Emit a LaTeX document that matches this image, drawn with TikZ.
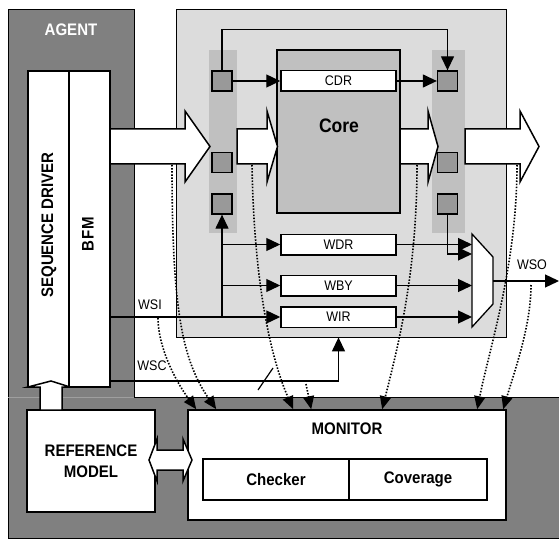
\documentclass[tikz,border=0pt]{standalone}
\usepackage{fontspec}
\setmainfont[FakeStretch=0.9]{Liberation Sans}
\usetikzlibrary{arrows.meta,positioning,calc}
\definecolor{agentsz}{HTML}{808080}
\definecolor{dutsz}{HTML}{DCDCDC}
\definecolor{savsz}{HTML}{C0C0C0}
\definecolor{portsz}{HTML}{999999}
\newcommand{\bfnagy}{\fontsize{16.7}{21}\selectfont\bfseries}
\newcommand{\kicsi}{\fontsize{13.9}{16}\selectfont}
\tikzset{
  lap/.style={draw,line width=1.6pt,fill=white,inner sep=0pt,align=center,font=\bfnagy},
  reg/.style={draw,line width=1.5pt,fill=white,minimum width=115pt,minimum height=20.5pt,inner sep=0pt,font=\kicsi},
  port/.style={draw,line width=1.3pt,fill=portsz,minimum size=20pt,inner sep=0pt},
  arr/.style={line width=1.3pt,-{Triangle[length=14pt,width=13pt]}},
  probe/.style={line width=1.6pt,dash pattern=on 1.5pt off 1.6pt,-{Triangle[length=13pt,width=11pt]}},
  cimke/.style={font=\kicsi,inner sep=0pt},
}
% hollow block arrow: shaft start, head base, tip, centre line
\newcommand{\vastag}[4]{%
  \draw[line width=1.5pt,fill=white] (#1,#4-17.5) -- (#2,#4-17.5) -- (#2,#4-35.5)
    -- (#3,#4) -- (#2,#4+35.5) -- (#2,#4+17.5) -- (#1,#4+17.5) -- cycle;}
\begin{document}
\begin{tikzpicture}[x=1pt,y=-1pt]
  \useasboundingbox (0,0) rectangle (559,540);
  % agent
  \filldraw[fill=agentsz,line width=0.8pt] (8,397) rectangle (565,538);
  \fill[agentsz] (8,9) rectangle (134,397);
  \draw[line width=0.8pt] (8,397) |- (134,9) -- (134,397);
  \draw[gray!75] (8,397) -- (134,397);
  \node[text=white,font=\bfnagy] (agent) at (71,29.5) {AGENT};
  \node[lap,minimum width=41pt,minimum height=316pt] (seq) at (48.5,229) {};
  \node[lap,minimum width=41pt,minimum height=316pt] (bfm) at (89.5,229) {};
  \node[rotate=90,font=\bfnagy] at (49,225) {SEQUENCE DRIVER};
  \node[rotate=90,font={\bfnagy\addfontfeature{LetterSpace=7}}] at (88,234) {BFM};
  \node[lap,minimum width=128pt,minimum height=102pt] (ref) at (91,461) {REFERENCE\\MODEL};
  \node[lap,minimum width=318pt,minimum height=110pt] (mon) at (347,465) {};
  \node[font=\bfnagy] at (347,429) {MONITOR};
  \node[lap,minimum width=146pt,minimum height=41pt] (chk) at (276,479.5) {Checker};
  \node[lap,minimum width=138pt,minimum height=41pt] (cov) at (418,479.5) {Coverage};
  \draw[line width=1.5pt,fill=white] (40,410) -- (40,387) -- (28,387) -- (51,381)
    -- (70,387) -- (62,387) -- (62,410) -- cycle;
  \draw[line width=1.5pt,fill=white] (149,460) -- (157,439) -- (157,450) -- (183,450)
    -- (183,439) -- (192,460) -- (183,481) -- (183,470) -- (157,470) -- (157,481) -- cycle;
  % DUT
  \node[draw,line width=0.8pt,fill=dutsz,minimum width=330pt,minimum height=328pt] (dut) at (341,173) {};
  \fill[savsz] (209,50) rectangle (237,233);
  \fill[savsz] (432,50) rectangle (465,233);
  \node[draw,line width=1.5pt,fill=savsz,minimum width=123pt,minimum height=163pt] (core) at (338.5,131.5) {};
  \node[font=\fontsize{19.5}{22}\selectfont\bfseries] at (339,125.5) {Core};
  \node[reg] (cdr) at (338.5,81) {CDR};
  \node[reg] (wdr) at (338.5,244.5) {WDR};
  \node[reg] (wby) at (338.5,285.5) {WBY};
  \node[reg] (wir) at (338.5,317) {WIR};
  \vastag{110}{185}{210}{146.5}
  \vastag{237}{267}{277.5}{146.5}
  \vastag{400}{428}{438}{146.5}
  \vastag{465}{520}{539}{146.5}
  \foreach \n/\yy in {1/81,2/162.5,3/204}{
    \node[port] (pl\n) at (222,\yy) {};
    \node[port] (pr\n) at (447.5,\yy) {};}
  \draw[line width=1.3pt,fill=white] (472,234) coordinate (mux) -- (493,257) -- (493,304) -- (472,327) -- cycle;
  \coordinate (muxo) at (493,281);
  \coordinate (wso) at (559,281);
  % scan path
  \draw[arr] (pl1) -- (cdr);
  \draw[arr] (cdr) -- (pr1);
  \draw[arr] (pl1.north) -- ++(0,-41) -| (pr1.north);
  \draw[arr] (bfm.east |- wir.west) -- (wir.west);
  \draw[arr] (pl3.south |- wir.west) -- (pl3.south);
  \draw[arr] (pl3.south |- wdr.west) -- (wdr.west);
  \draw[arr] (pl3.south |- wby.west) -- (wby.west);
  \draw[arr] (bfm.east |- 0,381) -| (wir.south |- dut.south);
  \draw[line width=1.2pt] (258,390) -- (273,368);
  \draw[arr] (wdr.east) -- (wdr.east -| mux);
  \draw[arr] (wby.east) -- (wby.east -| mux);
  \draw[arr] (wir.east) -- (wir.east -| mux);
  \draw[arr] (pr3.south) |- (mux |- 0,254);
  \draw[arr] (muxo) -- (wso);
  \node[cimke] (wsi) at (150,304.5) {WSI};
  \node[cimke] (wsc) at (152,366) {WSC};
  \node[cimke] (wsol) at (532,264.5) {WSO};
  % probes to the monitor
  \coordinate (sa) at (158,318);
  \coordinate (sb) at (172,165);
  \coordinate (sc) at (252,165);
  \coordinate (sd) at (306,384);
  \coordinate (se) at (417,165);
  \coordinate (sf) at (517,165);
  \coordinate (sg) at (531,285);
  \draw[probe] (sa) .. controls +(0,28) and +(-22,-30) .. ([xshift=9pt]mon.north west);
  \draw[probe] (sb) .. controls +(0,140) and +(-35,-50) .. ([xshift=29pt]mon.north west);
  \draw[probe] (sc) .. controls +(2,120) and +(-22,-50) .. ([xshift=106pt]mon.north west);
  \draw[probe] (sd) -- ([xshift=124pt]mon.north west);
  \draw[probe] (se) .. controls +(0,110) and +(15,-60) .. ([xshift=195pt]mon.north west);
  \draw[probe] (sf) .. controls +(0,100) and +(12,-60) .. ([xshift=290pt]mon.north west);
  \draw[probe] (sg) .. controls +(0,40) and +(12,-40) .. ([xshift=316pt]mon.north west);
\end{tikzpicture}
\end{document}
